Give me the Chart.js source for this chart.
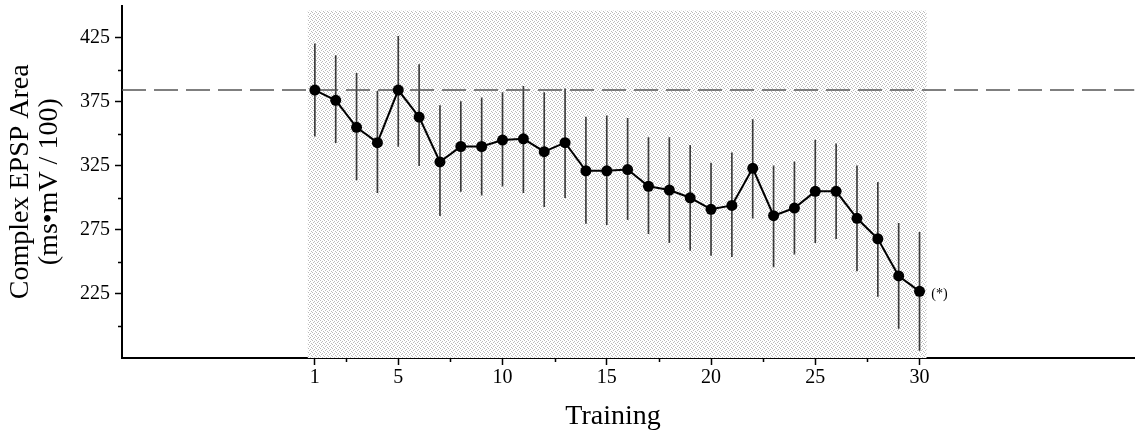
<!DOCTYPE html>
<html>
<head>
<meta charset="utf-8">
<script src="https://cdn.jsdelivr.net/npm/chart.js@4.4.1/dist/chart.umd.min.js"></script>
<style>
  html, body { margin: 0; padding: 0; background: #fff; overflow: hidden; }
  #wrap { width: 1140px; height: 430px; position: relative; }
</style>
</head>
<body>
<div id="wrap"><canvas id="epspChart"></canvas></div>
<script>
const trials = [1, 2, 3, 4, 5, 6, 7, 8, 9, 10, 11, 12, 13, 14, 15, 16, 17, 18, 19, 20, 21, 22, 23, 24, 25, 26, 27, 28, 29, 30];
const epspMean = [384, 376, 355, 343, 384, 363, 328, 340, 340, 345, 346, 336, 343, 321, 321, 322, 309, 306, 300, 291, 294, 323, 286, 292, 305, 305, 284, 268, 239, 227];
const errHigh = [420, 411, 397, 383, 426, 404, 372, 375, 378, 382, 387, 382, 385, 363, 364, 362, 347, 347, 341, 327, 335, 361, 325, 328, 345, 342, 325, 312, 280, 273];
const errLow = [348, 343, 314, 304, 340, 325, 286, 305, 302, 309, 304, 293, 300, 280, 279, 283, 272, 265, 259, 255, 254, 284, 246, 256, 265, 268, 243, 223, 198, 181];
const baselineValue = 384;
const xTickValues = [1, 5, 10, 15, 20, 25, 30];
const xMinorTicks = [2.5, 7.5, 12.5, 17.5, 22.5, 27.5];
const yTickValues = [225, 275, 325, 375, 425];
const yMinorTicks = [200, 250, 300, 350, 400];
const shadeRange = [0.66, 30.34, 446];

const xMin = -8.25, xMax = 40.31;
const yMin = 175, yMax = 450;
const serif = "'Liberation Serif', 'Times New Roman', serif";

// stipple texture for the training block
function stipple() {
  const c = document.createElement("canvas");
  c.width = 4; c.height = 4;
  const g = c.getContext("2d");
  g.fillStyle = "#ffffff";
  g.fillRect(0, 0, 4, 4);
  g.fillStyle = "#bcbcbc";
  [[0, 0], [2, 1], [1, 2], [3, 3]].forEach(([px, py]) => g.fillRect(px, py, 1, 1));
  return g.createPattern(c, "repeat");
}

const shadePlugin = {
  id: "shade",
  beforeDatasetsDraw(chart) {
    const { ctx, scales, chartArea } = chart;
    const x0 = scales.x.getPixelForValue(shadeRange[0]);
    const x1 = scales.x.getPixelForValue(shadeRange[1]);
    const y0 = scales.y.getPixelForValue(shadeRange[2]);
    ctx.save();
    ctx.fillStyle = stipple();
    ctx.fillRect(x0, y0, x1 - x0, chartArea.bottom - y0);
    ctx.restore();
  },
};

// short unlabelled ticks + text notes
const notesPlugin = {
  id: "notes",
  afterDraw(chart) {
    const { ctx, scales, chartArea } = chart;
    ctx.save();
    ctx.strokeStyle = "#000";
    ctx.lineWidth = 1.5;
    ctx.beginPath();
    yMinorTicks.forEach((v) => {
      const y = Math.round(scales.y.getPixelForValue(v)) + 0.5;
      ctx.moveTo(chartArea.left - 4, y);
      ctx.lineTo(chartArea.left, y);
    });
    xMinorTicks.forEach((v) => {
      const x = Math.round(scales.x.getPixelForValue(v)) + 0.5;
      ctx.moveTo(x, chartArea.bottom);
      ctx.lineTo(x, chartArea.bottom + 4);
    });
    ctx.stroke();

    const last = trials.length - 1;
    const px = scales.x.getPixelForValue(trials[last]);
    const py = scales.y.getPixelForValue(epspMean[last]);
    ctx.fillStyle = "#000";
    ctx.font = "14px " + serif;
    ctx.textAlign = "center";
    ctx.textBaseline = "middle";
    ctx.fillText("(*)", px + 20, py + 3);
    ctx.font = "28px " + serif;
    ctx.textBaseline = "alphabetic";
    ctx.fillText("Training", scales.x.getPixelForValue(15.3), 424);
    ctx.restore();
  },
};

new Chart(document.getElementById("epspChart"), {
  type: "line",
  data: {
    datasets: [
      {
        label: "EPSP area",
        data: trials.map((t, i) => ({ x: t, y: epspMean[i] })),
        borderColor: "#000",
        borderWidth: 2,
        backgroundColor: "#000",
        pointRadius: 5.5,
        pointBorderWidth: 0,
        tension: 0,
        clip: false,
        order: 0,
      },
      {
        label: "Baseline",
        data: [{ x: xMin, y: baselineValue }, { x: xMax, y: baselineValue }],
        borderColor: "#555",
        borderWidth: 1.5,
        borderDash: [24, 8],
        pointRadius: 0,
        order: 2,
      },
      {
        type: "bar",
        label: "SEM",
        data: trials.map((t, i) => ({ x: t, y: [errLow[i], errHigh[i]] })),
        backgroundColor: "#3a3a3a",
        barThickness: 1,
        borderWidth: 0,
        order: 3,
      },
    ],
  },
  options: {
    responsive: true,
    maintainAspectRatio: false,
    animation: false,
    layout: { padding: { top: 5, right: 0, left: 0, bottom: 0 } },
    plugins: {
      legend: { display: false },
      tooltip: { enabled: false },
    },
    scales: {
      x: {
        type: "linear",
        min: xMin,
        max: xMax,
        offset: false,
        afterFit: (s) => { s.height = 72; s.paddingLeft = 0; s.paddingRight = 0; },
        afterBuildTicks: (s) => { s.ticks = xTickValues.map((v) => ({ value: v })); },
        grid: { offset: false, drawOnChartArea: false, tickLength: 7, color: "#000", tickWidth: 1.5 },
        border: { display: true, color: "#000", width: 2 },
        ticks: {
          autoSkip: false,
          maxRotation: 0,
          padding: 1,
          color: "#000",
          font: { family: serif, size: 20 },
          callback: (v) => v,
        },
      },
      y: {
        type: "linear",
        min: yMin,
        max: yMax,
        afterFit: (s) => { s.width = 122; s.paddingTop = 0; s.paddingBottom = 0; },
        afterBuildTicks: (s) => { s.ticks = yTickValues.map((v) => ({ value: v })); },
        grid: { offset: false, drawOnChartArea: false, tickLength: 7, color: "#000", tickWidth: 1.5 },
        border: { display: true, color: "#000", width: 2 },
        ticks: {
          autoSkip: false,
          padding: 5,
          color: "#000",
          font: { family: serif, size: 20 },
        },
        title: {
          display: true,
          text: ["Complex EPSP Area", "(ms\u2022mV / 100)"],
          color: "#000",
          font: { family: serif, size: 28, lineHeight: 1.05 },
          padding: { top: 6, bottom: 0 },
        },
      },
    },
  },
  plugins: [shadePlugin, notesPlugin],
});
</script>
</body>
</html>
